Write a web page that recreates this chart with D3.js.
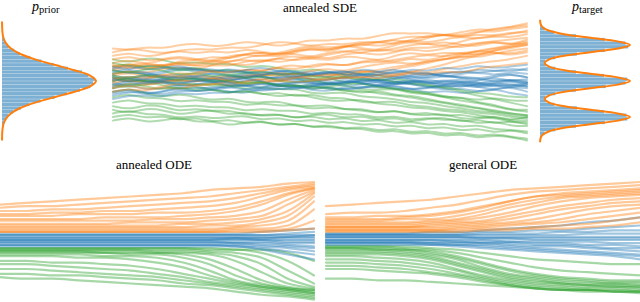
<!DOCTYPE html>
<html><head><meta charset="utf-8">
<script src="https://cdn.jsdelivr.net/npm/d3@7"></script>
<style>body{margin:0;background:#fff}svg{display:block}</style>
</head><body><svg id="c" width="640" height="302"></svg>
<script>
// ---------------- DATA ----------------
const titles = ["annealed SDE", "annealed ODE", "general ODE"];
const densityLabels = [{p: "p", sub: "prior"}, {p: "p", sub: "target"}];

// prior density, value grid and relative density
const priorGrid = [-33,-30,-27,-24,-21,-18,-15,-12,-9,-6,-3,0,3,6,9,12,15,18,21,24,27,30,33];
const priorDensity = [0.0004,0.0015,0.005,0.015,0.041,0.095,0.195,0.352,0.556,0.770,0.937,1,0.937,0.770,0.556,0.352,0.195,0.095,0.041,0.015,0.005,0.0015,0.0004];
// prior histogram, bins of width 2 from -32 to 32
const priorHist = [0.001,0.003,0.004,0.011,0.02,0.043,0.07,0.12,0.2,0.29,0.41,0.56,0.69,0.83,0.94,0.97,0.99,0.92,0.85,0.70,0.55,0.42,0.30,0.19,0.13,0.07,0.04,0.02,0.012,0.004,0.002,0.001];

// target density (three modes)
const targetGrid = [-34,-32,-30,-28,-26,-24,-22,-20,-18,-16,-14,-12,-10,-8,-6,-4,-2,0,2,4,6,8,10,12,14,16,18,20,22,24,26,28,30,32,34];
const targetDensity = [0.001,0.005,0.026,0.097,0.269,0.558,0.864,1,0.864,0.558,0.270,0.102,0.052,0.102,0.270,0.558,0.864,1,0.864,0.558,0.270,0.102,0.052,0.102,0.270,0.558,0.864,1,0.864,0.558,0.269,0.097,0.026,0.005,0.001];
// target histogram, bins of width 2 from -34 to 34
const targetHist = [0.002,0.012,0.05,0.17,0.40,0.72,0.97,0.96,0.71,0.41,0.16,0.065,0.06,0.17,0.40,0.73,0.95,0.97,0.71,0.40,0.17,0.065,0.06,0.17,0.41,0.72,0.98,0.95,0.72,0.40,0.16,0.05,0.012,0.002];

// annealed SDE trajectories (26 time steps each)
const sdeOrange = [
[18,17,19,18,20,21,19,20,22,21,19,21,23,22,24,23,25,27,26,27,25,27,29,28,30,31],
[16,18,17,15,17,18,17,19,18,20,22,21,19,21,20,22,21,23,25,24,26,24,26,25,27,27],
[6,8,6,8,10,8,9,8,11,12,10,12,14,12,15,16,14,16,18,16,18,20,21,22,23,24],
[3,5,2,3,5,3,6,4,7,5,8,6,9,10,8,11,10,12,13,15,13,15,16,18,19,20],
[0,2,-1,1,0,3,1,0,3,4,2,5,3,2,5,6,4,7,8,10,12,14,17,18,20,22],
[2,-1,1,3,1,4,2,1,4,2,5,3,2,5,3,6,5,3,6,4,7,8,10,11,12,14],
[-3,-1,-3,0,1,-1,2,3,1,4,5,3,6,7,5,8,9,11,9,11,12,14,13,15,17,18],
[10,12,9,12,13,11,14,12,15,16,14,17,19,17,19,21,19,21,23,21,23,25,23,25,24,26],
[8,10,7,8,10,8,11,10,8,11,13,11,13,11,14,13,11,14,16,14,16,15,17,16,14,16],
[-6,-4,-6,-3,-5,-2,-1,-3,0,1,-1,2,3,4,2,5,6,8,9,11,12,13,15,17,18,20],
[4,6,4,7,8,6,9,11,12,10,13,14,12,15,16,18,16,18,20,21,19,22,24,25,26,28],
[12,14,11,12,14,12,11,14,15,13,16,15,13,16,17,15,18,16,19,18,20,18,21,22,20,23],
[-1,1,-2,-1,1,-1,2,0,-1,2,0,3,1,0,3,1,4,2,5,3,6,4,7,8,9,10],
[7,9,10,8,11,12,10,13,15,16,14,17,18,16,19,21,22,20,23,25,26,24,27,29,30,32],
[1,3,1,4,2,5,6,4,7,5,8,9,7,10,8,11,12,10,13,11,14,16,14,16,15,17],
[14,16,13,15,17,15,17,15,18,16,15,18,20,18,20,18,17,20,22,20,22,20,19,22,20,21],
[-4,-2,-5,-3,-1,-3,-2,0,-2,-1,1,-1,0,2,1,3,1,3,5,7,9,12,14,17,19,21],
[9,7,10,8,11,9,12,10,13,15,13,16,18,17,20,19,22,23,21,24,26,25,28,27,29,30]
];
const sdeBlue = [
[0,2,-1,0,2,1,-1,0,2,-1,0,2,1,-1,-2,1,0,2,1,-1,1,-1,0,2,0,-1],
[4,6,3,4,7,5,4,2,5,4,6,5,3,4,6,3,4,2,3,5,2,3,1,3,4,2],
[-4,-2,-5,-4,-2,-3,-5,-2,-3,-1,-3,-4,-1,-2,0,-1,-3,0,-1,-2,0,1,-1,-2,0,-2],
[8,6,9,8,6,7,5,6,4,6,3,4,6,3,4,2,3,5,2,3,4,6,4,6,5,7],
[-8,-6,-6,-8,-5,-6,-4,-6,-7,-4,-5,-3,-5,-6,-3,-4,-2,-3,-5,-3,-5,-4,-6,-5,-3,-6],
[2,0,3,2,-1,1,-1,0,2,3,0,1,-1,-3,0,-1,1,0,-2,-3,-4,-2,-3,-5,-3,-4],
[-2,1,-1,1,0,2,0,3,2,0,3,2,4,2,1,4,3,6,4,3,5,4,7,5,7,6],
[6,4,5,2,4,2,3,0,2,3,1,2,-1,1,2,0,1,-2,0,1,-1,0,-2,1,0,1],
[-6,-4,-7,-6,-3,-5,-3,-4,-2,-4,-1,-2,-4,-1,-2,1,-1,-2,-1,-4,-2,-1,-3,-2,-4,-2],
[1,3,0,1,3,2,5,3,2,3,6,4,3,5,4,7,5,4,7,5,8,6,9,7,8,9],
[-1,-3,0,-1,-3,-2,0,-3,-2,-5,-3,-2,-5,-3,-5,-4,-2,-5,-4,-7,-5,-7,-6,-4,-7,-8],
[3,1,4,3,1,2,0,1,4,2,1,3,1,0,3,2,0,1,3,1,3,2,0,2,4,2],
[-3,0,-2,0,-2,1,0,-2,1,0,-3,-1,0,-2,-1,2,0,-1,1,-1,-2,0,-2,-1,1,-1],
[5,7,4,5,8,6,5,7,5,3,5,2,4,6,3,4,1,3,1,2,4,1,2,-1,1,0],
[-10,-8,-8,-9,-6,-8,-6,-7,-4,-6,-4,-5,-2,-4,-5,-3,-4,-2,-5,-4,-2,-4,-1,-3,-2,-3],
[7,9,6,7,9,6,7,4,6,8,5,6,3,5,6,3,5,7,4,5,2,4,5,3,5,4],
[-7,-5,-8,-6,-4,-6,-5,-3,-5,-4,-2,-4,-3,-1,-3,-2,0,-2,-1,0,-2,-1,-3,-1,-2,-3],
[1,-1,2,0,-2,0,1,-1,-3,-1,-2,0,-2,-1,1,-1,-3,-2,0,-1,-3,-2,-4,-2,-3,-1]
];
const sdeGreen = [
[12,10,13,12,9,11,9,10,7,9,7,5,7,5,3,5,3,1,0,-2,-4,-6,-8,-10,-12,-14],
[8,10,7,8,5,7,5,3,5,3,4,1,1,2,-1,-1,-3,-4,-6,-7,-9,-11,-12,-14,-16,-17],
[4,6,3,1,3,1,2,-1,-1,0,-3,-3,-2,-5,-5,-7,-5,-8,-8,-10,-12,-13,-15,-16,-18,-19],
[-2,-4,-1,-2,-5,-3,-5,-7,-5,-7,-9,-7,-9,-11,-11,-10,-13,-13,-15,-15,-17,-17,-19,-20,-22,-22],
[-6,-4,-7,-9,-7,-9,-11,-9,-12,-12,-11,-14,-14,-13,-16,-16,-18,-16,-19,-19,-18,-21,-21,-20,-23,-23],
[-12,-10,-13,-12,-15,-13,-15,-14,-17,-15,-17,-16,-19,-17,-19,-18,-21,-19,-22,-20,-22,-21,-24,-22,-25,-25],
[-18,-16,-19,-18,-21,-19,-21,-20,-19,-22,-20,-23,-21,-24,-22,-25,-23,-26,-24,-27,-25,-28,-26,-29,-27,-29],
[-22,-20,-23,-22,-20,-23,-22,-25,-23,-22,-25,-23,-26,-24,-27,-25,-28,-26,-29,-27,-30,-28,-31,-29,-31,-32],
[0,2,-1,0,-3,-1,-3,-2,-5,-3,-5,-4,-7,-7,-6,-9,-9,-10,-12,-12,-14,-15,-17,-17,-19,-20],
[2,-1,1,-1,0,-3,-1,-3,-2,0,-3,-2,-5,-3,-2,-5,-5,-4,-7,-7,-9,-9,-11,-9,-11,-11],
[-9,-7,-10,-9,-12,-10,-12,-11,-14,-12,-14,-13,-16,-14,-16,-15,-18,-16,-19,-17,-20,-18,-21,-19,-22,-20],
[-14,-16,-13,-14,-17,-15,-17,-16,-19,-19,-18,-21,-19,-22,-20,-23,-21,-24,-22,-25,-23,-26,-24,-27,-27,-28],
[10,8,8,9,6,8,5,7,4,6,3,5,2,2,3,0,2,-1,-1,-3,-3,-5,-7,-7,-9,-9],
[-4,-1,-3,-5,-3,-6,-4,-7,-5,-8,-6,-9,-7,-10,-9,-12,-12,-11,-14,-14,-16,-16,-18,-18,-20,-21],
[-16,-18,-15,-16,-19,-17,-16,-19,-17,-20,-18,-21,-19,-18,-21,-19,-22,-20,-23,-21,-20,-23,-21,-24,-22,-24],
[6,4,7,6,3,5,2,4,1,3,0,-1,1,-2,-2,-1,-4,-4,-6,-6,-9,-9,-12,-13,-16,-16],
[-20,-18,-21,-19,-22,-20,-23,-21,-24,-22,-25,-23,-26,-25,-27,-26,-29,-27,-30,-28,-31,-29,-32,-30,-31,-33],
[3,1,4,2,0,2,-1,1,-2,0,-3,-2,-4,-3,-6,-5,-7,-8,-9,-11,-12,-14,-15,-17,-18,-19]
];

// annealed ODE trajectories (13 time steps each)
const annealedOrange = [
[22,23,24,25,26,27,28,29,31,32,33,35,36],
[20,21,21,22,23,24,25,26,27,29,31,33,35],
[18,18,19,19,20,21,22,23,24,26,29,32,34],
[16,16,17,17,18,18,19,20,21,23,27,31,33],
[15,15,15,16,16,16,17,17,18,20,24,29,32],
[13,13,13,13,14,14,14,15,16,18,22,28,32],
[12,12,12,12,12,12,13,13,14,15,18,25,31],
[10,10,10,10,10,11,11,11,12,13,15,22,30],
[9,9,9,9,9,9,9,10,10,11,13,18,29],
[8,8,8,8,8,8,8,8,9,9,11,15,27],
[7,7,7,7,7,7,7,7,7,8,9,12,24],
[6,6,6,6,6,6,6,6,6,7,7,9,19],
[5,5,5,5,5,5,5,5,5,6,6,7,12],
[5,5,5,5,5,5,5,5,5,5,5,6,7]
];
const annealedBlue = [
[4,4,4,4,4,4,4,4,4,4,5,6,7],
[3,3,3,3,3,3,3,3,3,3,3,4,5],
[3,3,3,3,3,3,3,3,3,3,3,3,3],
[2,2,2,2,2,2,2,2,2,2,2,2,2],
[1,1,1,1,1,1,1,1,1,1,1,1,1],
[1,1,1,1,1,1,1,1,1,1,0,0,0],
[0,0,0,0,0,0,0,0,0,0,0,-1,-1],
[-1,-1,-1,-1,-1,-1,-1,-1,-1,-1,-1,-2,-2],
[-1,-1,-1,-1,-1,-1,-1,-1,-1,-2,-2,-3,-4],
[-2,-2,-2,-2,-2,-2,-2,-2,-2,-2,-3,-4,-5],
[-3,-3,-3,-3,-3,-3,-3,-3,-3,-3,-4,-5,-7],
[-3,-3,-3,-3,-3,-3,-3,-3,-3,-4,-5,-7,-9],
[-4,-4,-4,-4,-4,-4,-4,-4,-4,-4,-6,-9,-12],
[0,0,0,0,0,0,0,0,0,1,1,2,3]
];
const annealedGreen = [
[-5,-5,-5,-5,-5,-5,-5,-5,-5,-6,-6,-8,-13],
[-5,-5,-5,-5,-5,-5,-5,-5,-6,-6,-8,-13,-22],
[-6,-6,-6,-6,-6,-6,-6,-6,-7,-8,-11,-19,-27],
[-6,-6,-6,-6,-6,-6,-7,-7,-8,-10,-15,-24,-29],
[-7,-7,-7,-7,-7,-7,-8,-8,-9,-13,-20,-27,-30],
[-7,-7,-7,-7,-8,-8,-8,-9,-12,-18,-25,-29,-31],
[-8,-8,-8,-8,-8,-9,-9,-11,-15,-22,-27,-30,-31],
[-9,-9,-9,-9,-10,-10,-11,-14,-19,-25,-28,-30,-32],
[-10,-10,-10,-11,-11,-12,-14,-17,-22,-26,-29,-31,-33],
[-13,-13,-14,-14,-15,-16,-18,-21,-24,-27,-29,-31,-33],
[-15,-15,-16,-17,-18,-19,-21,-23,-26,-28,-30,-32,-34],
[-18,-18,-19,-20,-21,-22,-23,-25,-27,-29,-31,-33,-35],
[-21,-21,-22,-22,-23,-24,-25,-27,-28,-30,-32,-34,-36],
[-23,-24,-24,-25,-26,-27,-28,-29,-30,-32,-34,-35,-37]
];

// general ODE trajectories (13 time steps each)
const generalOrange = [
[21,22,23,24,25,27,29,31,32,33,34,35,36],
[16,17,17,18,20,22,25,28,30,31,32,33,34],
[14,14,15,15,16,18,21,24,27,29,30,31,32],
[13,13,13,14,15,17,20,24,27,28,29,30,31],
[12,12,12,13,13,15,18,22,25,27,28,29,30],
[11,11,11,11,12,13,16,20,23,26,27,28,29],
[10,10,10,10,11,12,14,17,21,24,26,27,28],
[9,9,9,9,10,11,12,15,18,21,23,25,26],
[8,8,8,8,9,10,11,13,16,19,21,23,24],
[8,8,8,8,8,9,10,11,13,16,19,21,22],
[7,7,7,7,7,8,9,10,11,13,16,18,20],
[6,6,6,6,6,7,8,9,10,11,13,15,17],
[6,6,6,6,6,6,7,7,8,9,10,12,14],
[5,5,5,5,5,5,6,6,7,7,8,9,11]
];
const generalBlue = [
[4,4,4,4,5,5,6,7,8,9,11,12,14],
[4,4,4,4,4,4,5,5,6,6,7,8,9],
[3,3,3,3,3,3,4,4,4,5,5,6,6],
[3,3,3,3,3,3,3,3,3,3,4,4,4],
[2,2,2,2,2,2,2,2,2,2,2,2,2],
[2,2,2,2,2,2,1,1,1,1,1,1,1],
[1,1,1,1,1,1,1,1,0,0,0,0,0],
[0,0,0,0,0,0,0,-1,-1,-1,-1,-2,-2],
[0,0,0,0,0,-1,-1,-1,-2,-2,-3,-3,-4],
[-1,-1,-1,-1,-1,-1,-2,-2,-3,-3,-4,-5,-5],
[-1,-1,-1,-1,-2,-2,-2,-3,-4,-4,-5,-6,-7],
[-2,-2,-2,-2,-2,-3,-3,-4,-5,-6,-7,-8,-9],
[-2,-2,-2,-2,-3,-3,-4,-5,-6,-7,-8,-9,-10],
[-3,-3,-3,-3,-3,-4,-5,-6,-7,-8,-9,-10,-12]
];
const generalGreen = [
[-4,-4,-4,-4,-5,-6,-8,-10,-12,-13,-14,-15,-15],
[-4,-4,-4,-5,-6,-8,-11,-14,-17,-19,-20,-21,-22],
[-5,-5,-5,-6,-7,-10,-14,-18,-21,-23,-24,-25,-25],
[-5,-5,-6,-6,-8,-11,-15,-19,-22,-24,-25,-26,-26],
[-6,-6,-6,-7,-9,-12,-17,-21,-23,-25,-26,-27,-27],
[-7,-7,-7,-8,-10,-14,-18,-22,-24,-26,-27,-27,-28],
[-8,-8,-8,-9,-11,-15,-19,-23,-25,-27,-28,-28,-29],
[-9,-9,-9,-10,-12,-16,-20,-24,-26,-27,-28,-29,-29],
[-10,-10,-11,-12,-14,-18,-22,-25,-27,-28,-29,-29,-30],
[-12,-12,-13,-14,-16,-19,-23,-26,-28,-29,-30,-30,-31],
[-14,-14,-15,-16,-18,-21,-24,-27,-29,-30,-31,-31,-32],
[-16,-16,-17,-18,-20,-22,-25,-28,-30,-31,-31,-32,-32],
[-18,-18,-19,-20,-21,-23,-26,-28,-30,-31,-32,-32,-33],
[-24,-24,-25,-25,-26,-27,-28,-29,-30,-31,-31,-32,-32]
];

// ---------------- DRAWING ----------------
const COL = {orange: "#ff7f0e", blue: "#1f77b4", green: "#2ca02c"};
const SERIF = "'Liberation Serif', 'Times New Roman', Tinos, 'DejaVu Serif', serif";
const svg = d3.select("#c");

function bundle(sets, x, y, width, opacity, curve) {
  const g = svg.append("g").attr("fill", "none").attr("stroke-linejoin", "round").attr("stroke-linecap", "round");
  const line = d3.line().x((d, i) => x(i)).y(d => y(d)).curve(curve);
  const n = d3.max(sets, s => s.data.length);
  for (let i = 0; i < n; i++) {
    sets.forEach(s => {
      if (!s.data[i]) return;
      g.append("path").attr("d", line(s.data[i]))
        .attr("stroke", s.color).attr("stroke-width", width).attr("stroke-opacity", opacity);
    });
  }
}

// top row value scale
const yTop = d3.scaleLinear().domain([-33.3, 33.3]).range([141, 21]);

// SDE panel
const xSde = d3.scaleLinear().domain([0, sdeOrange[0].length - 1]).range([113, 527]);
bundle([{data: sdeOrange, color: COL.orange}, {data: sdeBlue, color: COL.blue}, {data: sdeGreen, color: COL.green}],
  xSde, yTop, 2, 0.38, d3.curveBasis);

// density panels
function densityPanel(grid, dens, hist, binStart, x0, x1) {
  const xs = d3.scaleLinear().domain([0, 1]).range([x0, x1]);
  const g = svg.append("g");
  g.selectAll("rect").data(hist).join("rect")
    .attr("x", xs(0))
    .attr("y", (d, i) => yTop(binStart + 2 * (i + 1)) + 0.15)
    .attr("width", d => xs(d) - xs(0))
    .attr("height", (d, i) => Math.max(0, yTop(binStart + 2 * i) - yTop(binStart + 2 * (i + 1)) - 0.3))
    .attr("fill", COL.blue).attr("fill-opacity", 0.58);
  const pts = grid.map((v, i) => [v, dens[i]]);
  g.append("path")
    .attr("d", d3.line().x(d => xs(d[1])).y(d => yTop(d[0])).curve(d3.curveCatmullRom)(pts))
    .attr("fill", "none").attr("stroke", COL.orange).attr("stroke-width", 2);
}
densityPanel(priorGrid, priorDensity, priorHist, -32, 2, 96);
densityPanel(targetGrid, targetDensity, targetHist, -34, 540, 630);

// ODE panels
const yOde = d3.scaleLinear().domain([-36, 36]).range([298, 182]);
const xAnn = d3.scaleLinear().domain([0, annealedOrange[0].length - 1]).range([0, 314]);
const xGen = d3.scaleLinear().domain([0, generalOrange[0].length - 1]).range([326, 640]);
bundle([{data: annealedOrange, color: COL.orange}, {data: annealedBlue, color: COL.blue}, {data: annealedGreen, color: COL.green}],
  xAnn, yOde, 2.2, 0.42, d3.curveMonotoneX);
bundle([{data: generalOrange, color: COL.orange}, {data: generalBlue, color: COL.blue}, {data: generalGreen, color: COL.green}],
  xGen, yOde, 2.2, 0.42, d3.curveMonotoneX);

// titles
const tpos = [[320, 12], [154, 169], [483, 169]];
titles.forEach((t, i) => svg.append("text").attr("x", tpos[i][0]).attr("y", tpos[i][1])
  .attr("text-anchor", "middle").attr("font-family", SERIF).attr("font-size", 13).attr("fill", "#000").text(t));
const lpos = [[32, 11], [572, 11]];
densityLabels.forEach((l, i) => {
  const t = svg.append("text").attr("x", lpos[i][0]).attr("y", lpos[i][1])
    .attr("font-family", SERIF).attr("font-size", 14).attr("fill", "#000");
  t.append("tspan").attr("font-style", "italic").text(l.p);
  t.append("tspan").attr("font-size", 10.5).attr("dy", 2).text(l.sub);
});
</script></body></html>
